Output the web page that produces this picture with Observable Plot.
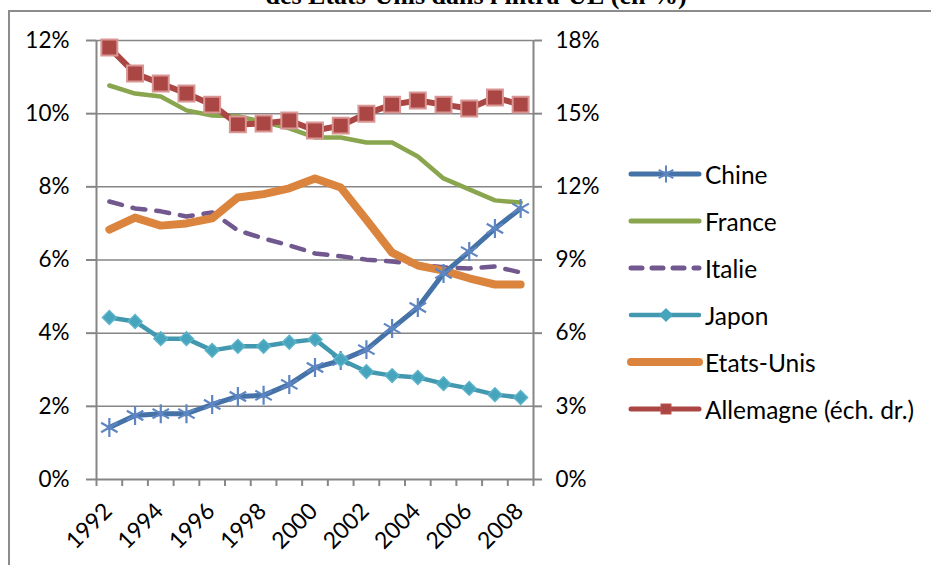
<!DOCTYPE html>
<html>
<head>
<meta charset="utf-8">
<script src="https://cdn.jsdelivr.net/npm/d3@7"></script>
<script src="https://cdn.jsdelivr.net/npm/@observablehq/plot@0.6"></script>
<style>
  html, body { margin: 0; padding: 0; background: white; }
  #wrap { position: relative; width: 931px; height: 565px; overflow: hidden; background: white; }
  #frame { position: absolute; left: 8px; top: 10px; width: 1000px; height: 1000px; border: 2px solid #8c8c8c; box-sizing: border-box; pointer-events: none; }
  #title { position: absolute; left: 8px; width: 936px; top: -17px; text-align: center; font-family: "Liberation Serif", serif; font-weight: bold; font-size: 26px; line-height: 26px; color: black; white-space: nowrap; }
  #chart { position: absolute; left: 0; top: 0; }
  #legend { position: absolute; left: 626px; top: 0; font-family: Lato, sans-serif; font-size: 24.5px; color: black; }
  .item { position: absolute; left: 0; display: flex; align-items: center; white-space: nowrap; }
  .item svg { display: block; }
</style>
</head>
<body>
<div id="wrap">
  <div id="chart"></div>
  <div id="frame"></div>
  <div id="title">des Etats-Unis dans l'intra-UE (en %)</div>
  <div id="legend"></div>
</div>
<script>
// ---- data ----
const years = [1992, 1993, 1994, 1995, 1996, 1997, 1998, 1999, 2000, 2001, 2002, 2003, 2004, 2005, 2006, 2007, 2008];
const chine     = [1.42, 1.75, 1.80, 1.80, 2.05, 2.27, 2.30, 2.60, 3.06, 3.25, 3.55, 4.13, 4.70, 5.63, 6.23, 6.86, 7.41];
const france    = [10.77, 10.55, 10.47, 10.09, 9.95, 9.93, 9.77, 9.60, 9.35, 9.35, 9.21, 9.21, 8.83, 8.23, 7.93, 7.63, 7.57];
const italie    = [7.60, 7.41, 7.33, 7.19, 7.30, 6.81, 6.59, 6.40, 6.18, 6.10, 6.01, 5.96, 5.88, 5.80, 5.77, 5.82, 5.66];
const japon     = [4.43, 4.32, 3.85, 3.85, 3.53, 3.64, 3.64, 3.75, 3.83, 3.28, 2.95, 2.84, 2.79, 2.62, 2.49, 2.32, 2.24];
const etatsUnis = [6.83, 7.16, 6.94, 7.00, 7.14, 7.71, 7.80, 7.96, 8.23, 7.98, 7.10, 6.20, 5.85, 5.71, 5.50, 5.33, 5.33];
const allemagne = [17.71, 16.65, 16.24, 15.83, 15.37, 14.56, 14.60, 14.72, 14.31, 14.51, 15.00, 15.37, 15.54, 15.37, 15.21, 15.66, 15.37]; // right axis
const leftTicks  = [0, 2, 4, 6, 8, 10, 12];
const rightTicks = [0, 3, 6, 9, 12, 15, 18];
const xLabels = [1992, 1994, 1996, 1998, 2000, 2002, 2004, 2006, 2008];
const legendNames = ["Chine", "France", "Italie", "Japon", "Etats-Unis", "Allemagne (éch. dr.)"];

// ---- derived ----
const leftMax = leftTicks[leftTicks.length - 1];
const rightMax = rightTicks[rightTicks.length - 1];
const toLeft = v => v * leftMax / rightMax;
const xMin = years[0] - 0.5, xMax = years[years.length - 1] + 0.5;
const boundaries = [...years.map(y => y - 0.5), xMax];
const gridColor = "#868686";
const col = {chine: "#4572A7", france: "#89A54E", italie: "#71588F", japon: "#4198AF", etats: "#DB843D", allemagne: "#AA4643"};
const X = (d, i) => years[i];

const plot = Plot.plot({
  width: 931, height: 565,
  marginLeft: 96, marginRight: 398, marginTop: 40, marginBottom: 86,
  style: {fontFamily: "Lato, sans-serif", fontSize: "22px", background: "transparent", color: "black", overflow: "visible"},
  x: {type: "linear", domain: [xMin, xMax]},
  y: {type: "linear", domain: [0, leftMax]},
  marks: [
    Plot.ruleY(leftTicks.slice(1), {stroke: gridColor, strokeWidth: 1.5}),
    Plot.ruleY([0], {stroke: gridColor, strokeWidth: 2}),
    Plot.ruleX([xMin, xMax], {stroke: gridColor, strokeWidth: 2}),
    Plot.axisY(leftTicks, {anchor: "left", tickSize: 10, tickPadding: 17, tickFormat: d => d + "%", stroke: gridColor, strokeWidth: 2, fill: "black", fontSize: 22.5, label: null}),
    Plot.axisY(rightTicks.map(toLeft), {anchor: "right", tickSize: 8, tickPadding: 14, tickFormat: d => Math.round(d * rightMax / leftMax) + "%", stroke: gridColor, strokeWidth: 2, fill: "black", fontSize: 22.5, label: null}),
    Plot.axisX(boundaries, {anchor: "bottom", tickSize: 7, tickFormat: () => "", stroke: gridColor, strokeWidth: 2, label: null}),
    Plot.text(xLabels, {x: d => d, frameAnchor: "bottom", text: d => String(d), rotate: -45, textAnchor: "end", lineAnchor: "bottom", dx: 4, dy: 33, fontSize: 23, fill: "black"}),
    // series
    Plot.line(france, {x: X, y: d => d, stroke: col.france, strokeWidth: 4.5, strokeLinejoin: "round", strokeLinecap: "round"}),
    Plot.line(italie, {x: X, y: d => d, stroke: col.italie, strokeWidth: 4.5, strokeDasharray: "13,11", strokeLinecap: "round"}),
    Plot.line(etatsUnis, {x: X, y: d => d, stroke: col.etats, strokeWidth: 8, strokeLinejoin: "round", strokeLinecap: "round"}),
    Plot.line(chine, {x: X, y: d => d, stroke: col.chine, strokeWidth: 5, strokeLinejoin: "round"}),
    Plot.dot(chine, {x: X, y: d => d, symbol: "asterisk", r: 9, stroke: "#5e86c2", strokeWidth: 2.2}),
    Plot.line(japon, {x: X, y: d => d, stroke: col.japon, strokeWidth: 4.5, strokeLinejoin: "round"}),
    Plot.dot(japon, {x: X, y: d => d, symbol: "square", rotate: 45, r: 5.5, fill: "#46a5bd", stroke: "#5bb3c9", strokeWidth: 1.5}),
    Plot.line(allemagne, {x: X, y: d => toLeft(d), stroke: col.allemagne, strokeWidth: 6, strokeLinejoin: "round"}),
    Plot.dot(allemagne, {x: X, y: d => toLeft(d), symbol: "square", r: 9, fill: col.allemagne, stroke: "#d99694", strokeWidth: 2})
  ]
});
document.getElementById("chart").appendChild(plot);

// ---- legend ----
const legendStyles = [
  {stroke: col.chine, width: 5, marker: "asterisk", mcolor: "#5e86c2"},
  {stroke: col.france, width: 5},
  {stroke: col.italie, width: 5, dash: "11,10"},
  {stroke: col.japon, width: 4.5, marker: "diamond", mcolor: "#46a5bd"},
  {stroke: col.etats, width: 8},
  {stroke: col.allemagne, width: 5, marker: "square", mcolor: col.allemagne}
];
const legend = d3.select("#legend");
legendNames.forEach((name, i) => {
  const s = legendStyles[i];
  const item = legend.append("div").attr("class", "item").style("top", (174 + i * 47 - 15) + "px").style("height", "30px");
  const svg = item.append("svg").attr("width", 78).attr("height", 30);
  svg.append("line").attr("x1", 5).attr("x2", 73).attr("y1", 15).attr("y2", 15)
    .attr("stroke", s.stroke).attr("stroke-width", s.width).attr("stroke-linecap", "round")
    .attr("stroke-dasharray", s.dash || null);
  if (s.marker === "asterisk") {
    svg.append("path").attr("transform", "translate(40,15)").attr("d", d3.symbol(d3.symbolAsterisk, 200)()).attr("stroke", s.mcolor).attr("stroke-width", 2).attr("fill", "none");
  } else if (s.marker === "diamond") {
    svg.append("rect").attr("x", -5).attr("y", -5).attr("width", 10).attr("height", 10).attr("transform", "translate(40,15) rotate(45)").attr("fill", s.mcolor);
  } else if (s.marker === "square") {
    svg.append("rect").attr("x", 35).attr("y", 10).attr("width", 10).attr("height", 10).attr("fill", s.mcolor).attr("stroke", "#c0504d").attr("stroke-width", 1);
  }
  item.append("span").text(name).style("margin-left", "1px");
});
</script>
</body>
</html>
